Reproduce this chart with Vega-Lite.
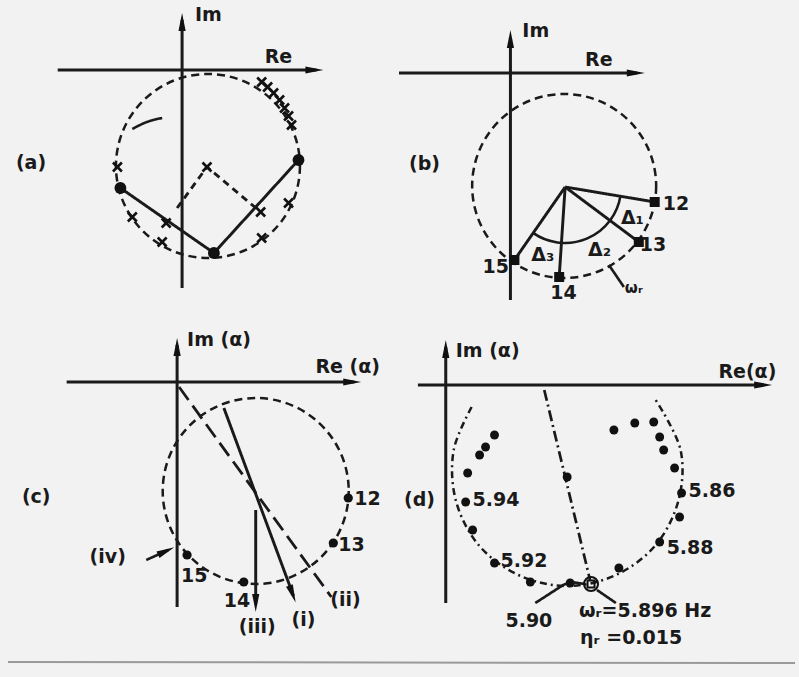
{
  "$schema": "https://vega.github.io/schema/vega-lite/v6.json",
  "width": 799,
  "height": 677,
  "autosize": {"type": "fit", "contains": "padding"},
  "padding": 0,
  "background": "#f2f2f2",
  "config": {"view": {"stroke": null}},
  "encoding": {
    "x": {"field": "x", "type": "quantitative", "scale": {"domain": [0, 799], "nice": false, "zero": false}, "axis": null},
    "y": {"field": "y", "type": "quantitative", "scale": {"domain": [0, 677], "reverse": true, "nice": false, "zero": false}, "axis": null}
  },
  "datasets": {
    "circles": [
      {"panel": "a", "x": 209, "y": 166, "r": 92},
      {"panel": "b", "x": 567, "y": 186, "r": 92},
      {"panel": "c", "x": 257, "y": 491, "r": 93}
    ],
    "arcs": [
      {"panel": "b", "x": 568, "y": 187, "r": 56, "t1": 99.5, "t2": 215}
    ],
    "lines": [
      {"g": "a_im", "k": "axis", "o": 0, "x": 183, "y": 288},
      {"g": "a_im", "k": "axis", "o": 1, "x": 183, "y": 20},
      {"g": "a_re", "k": "axis", "o": 0, "x": 58, "y": 70},
      {"g": "a_re", "k": "axis", "o": 1, "x": 318, "y": 70},
      {"g": "a_sol", "k": "solid", "o": 0, "x": 121, "y": 188},
      {"g": "a_sol", "k": "solid", "o": 1, "x": 215, "y": 253},
      {"g": "a_sol", "k": "solid", "o": 2, "x": 300, "y": 160},
      {"g": "a_das", "k": "dashed", "o": 0, "x": 178, "y": 208},
      {"g": "a_das", "k": "dashed", "o": 1, "x": 208, "y": 167},
      {"g": "a_das", "k": "dashed", "o": 2, "x": 262, "y": 212},
      {"g": "b_im", "k": "axis", "o": 0, "x": 513, "y": 300},
      {"g": "b_im", "k": "axis", "o": 1, "x": 513, "y": 38},
      {"g": "b_re", "k": "axis", "o": 0, "x": 401, "y": 73},
      {"g": "b_re", "k": "axis", "o": 1, "x": 640, "y": 73},
      {"g": "b_12", "k": "solid", "o": 0, "x": 568, "y": 187},
      {"g": "b_12", "k": "solid", "o": 1, "x": 658, "y": 202},
      {"g": "b_13", "k": "solid", "o": 0, "x": 568, "y": 187},
      {"g": "b_13", "k": "solid", "o": 1, "x": 642, "y": 242},
      {"g": "b_14", "k": "solid", "o": 0, "x": 568, "y": 187},
      {"g": "b_14", "k": "solid", "o": 1, "x": 562, "y": 277},
      {"g": "b_15", "k": "solid", "o": 0, "x": 568, "y": 187},
      {"g": "b_15", "k": "solid", "o": 1, "x": 517, "y": 260},
      {"g": "b_w", "k": "leader", "o": 0, "x": 612, "y": 265},
      {"g": "b_w", "k": "leader", "o": 1, "x": 627, "y": 287},
      {"g": "c_im", "k": "axis", "o": 0, "x": 178, "y": 607},
      {"g": "c_im", "k": "axis", "o": 1, "x": 178, "y": 345},
      {"g": "c_re", "k": "axis", "o": 0, "x": 67, "y": 382},
      {"g": "c_re", "k": "axis", "o": 1, "x": 356, "y": 382},
      {"g": "c_i", "k": "solid", "o": 0, "x": 225, "y": 408},
      {"g": "c_i", "k": "solid", "o": 1, "x": 295, "y": 596},
      {"g": "c_ii", "k": "longdash", "o": 0, "x": 180, "y": 387},
      {"g": "c_ii", "k": "longdash", "o": 1, "x": 333, "y": 597},
      {"g": "c_iii", "k": "solid", "o": 0, "x": 257, "y": 510},
      {"g": "c_iii", "k": "solid", "o": 1, "x": 257, "y": 604},
      {"g": "c_iv", "k": "leader", "o": 0, "x": 147, "y": 560},
      {"g": "c_iv", "k": "leader", "o": 1, "x": 169, "y": 550},
      {"g": "d_im", "k": "axis", "o": 0, "x": 448, "y": 603},
      {"g": "d_im", "k": "axis", "o": 1, "x": 448, "y": 347},
      {"g": "d_re", "k": "axis", "o": 0, "x": 420, "y": 385},
      {"g": "d_re", "k": "axis", "o": 1, "x": 768, "y": 385},
      {"g": "d_rad", "k": "dashdot", "o": 0, "x": 547, "y": 390},
      {"g": "d_rad", "k": "dashdot", "o": 1, "x": 593, "y": 580},
      {"g": "d_l1", "k": "leader", "o": 0, "x": 538, "y": 603},
      {"g": "d_l1", "k": "leader", "o": 1, "x": 566, "y": 585},
      {"g": "d_l1", "k": "leader", "o": 2, "x": 574, "y": 582},
      {"g": "d_l1", "k": "leader", "o": 3, "x": 588, "y": 584},
      {"g": "d_l2", "k": "leader", "o": 0, "x": 600, "y": 590},
      {"g": "d_l2", "k": "leader", "o": 1, "x": 619, "y": 603},
      {"g": "frame", "k": "frame", "o": 0, "x": 8, "y": 662},
      {"g": "frame", "k": "frame", "o": 1, "x": 799, "y": 663}
    ],
    "curves": [
      {"g": "a_thk", "k": "thick", "o": 0, "x": 133, "y": 129},
      {"g": "a_thk", "k": "thick", "o": 1, "x": 145, "y": 123},
      {"g": "a_thk", "k": "thick", "o": 2, "x": 154, "y": 120},
      {"g": "a_thk", "k": "thick", "o": 3, "x": 163, "y": 118},
      {"g": "d_arc", "k": "dotdash", "o": 0, "x": 474, "y": 407},
      {"g": "d_arc", "k": "dotdash", "o": 1, "x": 456, "y": 450},
      {"g": "d_arc", "k": "dotdash", "o": 2, "x": 458, "y": 500},
      {"g": "d_arc", "k": "dotdash", "o": 3, "x": 481, "y": 545},
      {"g": "d_arc", "k": "dotdash", "o": 4, "x": 521, "y": 575},
      {"g": "d_arc", "k": "dotdash", "o": 5, "x": 570, "y": 586},
      {"g": "d_arc", "k": "dotdash", "o": 6, "x": 619, "y": 575},
      {"g": "d_arc", "k": "dotdash", "o": 7, "x": 659, "y": 545},
      {"g": "d_arc", "k": "dotdash", "o": 8, "x": 682, "y": 500},
      {"g": "d_arc", "k": "dotdash", "o": 9, "x": 684, "y": 450},
      {"g": "d_arc", "k": "dotdash", "o": 10, "x": 659, "y": 400}
    ],
    "dots": [
      {"p": "a", "x": 300, "y": 160},
      {"p": "a", "x": 121, "y": 188},
      {"p": "a", "x": 215, "y": 253},
      {"p": "b", "x": 658, "y": 202},
      {"p": "b", "x": 642, "y": 242},
      {"p": "b", "x": 562, "y": 277},
      {"p": "b", "x": 517, "y": 260},
      {"p": "c", "x": 350, "y": 498},
      {"p": "c", "x": 335, "y": 543},
      {"p": "c", "x": 245, "y": 582},
      {"p": "c", "x": 188, "y": 555},
      {"p": "d", "x": 497, "y": 435},
      {"p": "d", "x": 488, "y": 447},
      {"p": "d", "x": 482, "y": 455},
      {"p": "d", "x": 470, "y": 473},
      {"p": "d", "x": 468, "y": 502},
      {"p": "d", "x": 475, "y": 530},
      {"p": "d", "x": 497, "y": 563},
      {"p": "d", "x": 533, "y": 582},
      {"p": "d", "x": 573, "y": 583},
      {"p": "d", "x": 622, "y": 568},
      {"p": "d", "x": 663, "y": 542},
      {"p": "d", "x": 683, "y": 517},
      {"p": "d", "x": 685, "y": 493},
      {"p": "d", "x": 678, "y": 468},
      {"p": "d", "x": 667, "y": 450},
      {"p": "d", "x": 663, "y": 437},
      {"p": "d", "x": 657, "y": 422},
      {"p": "d", "x": 638, "y": 423},
      {"p": "d", "x": 617, "y": 430},
      {"p": "d", "x": 570, "y": 477}
    ],
    "crosses": [
      {"x": 118, "y": 167},
      {"x": 133, "y": 217},
      {"x": 163, "y": 242},
      {"x": 263, "y": 238},
      {"x": 290, "y": 203},
      {"x": 167, "y": 223},
      {"x": 262, "y": 212},
      {"x": 208, "y": 167},
      {"x": 263, "y": 82},
      {"x": 269, "y": 87},
      {"x": 275, "y": 93},
      {"x": 281, "y": 100},
      {"x": 286, "y": 108},
      {"x": 290, "y": 116},
      {"x": 293, "y": 125}
    ],
    "arrows": [
      {"x": 183, "y": 22, "ang": 0},
      {"x": 316, "y": 70, "ang": 90},
      {"x": 513, "y": 39, "ang": 0},
      {"x": 639, "y": 73, "ang": 90},
      {"x": 178, "y": 347, "ang": 0},
      {"x": 354, "y": 382, "ang": 90},
      {"x": 448, "y": 349, "ang": 0},
      {"x": 767, "y": 385, "ang": 90},
      {"x": 294, "y": 594, "ang": 159.6},
      {"x": 257, "y": 603, "ang": 180},
      {"x": 167, "y": 551, "ang": 65}
    ],
    "box": [
      {"x": 594, "y": 584}
    ],
    "labels": [
      {"t": "Im", "x": 196, "y": 15},
      {"t": "Re", "x": 266, "y": 57},
      {"t": "(a)", "x": 16, "y": 163},
      {"t": "Im", "x": 525, "y": 31},
      {"t": "Re", "x": 588, "y": 60},
      {"t": "(b)", "x": 411, "y": 164},
      {"t": "12", "x": 666, "y": 204},
      {"t": "13", "x": 643, "y": 245},
      {"t": "14", "x": 553, "y": 293},
      {"t": "15", "x": 485, "y": 267},
      {"t": "Δ₁", "x": 624, "y": 218},
      {"t": "Δ₂", "x": 591, "y": 250},
      {"t": "Δ₃", "x": 534, "y": 255},
      {"t": "Im (α)", "x": 188, "y": 340},
      {"t": "Re (α)", "x": 317, "y": 367},
      {"t": "(c)", "x": 22, "y": 497},
      {"t": "12", "x": 356, "y": 499},
      {"t": "13", "x": 340, "y": 545},
      {"t": "15", "x": 182, "y": 576},
      {"t": "14", "x": 225, "y": 601},
      {"t": "(iv)", "x": 90, "y": 557},
      {"t": "(iii)", "x": 240, "y": 627},
      {"t": "(i)", "x": 293, "y": 620},
      {"t": "(ii)", "x": 332, "y": 600},
      {"t": "Im (α)", "x": 458, "y": 351},
      {"t": "Re(α)", "x": 722, "y": 372},
      {"t": "(d)", "x": 406, "y": 500},
      {"t": "5.94", "x": 475, "y": 500},
      {"t": "5.86", "x": 692, "y": 491},
      {"t": "5.88", "x": 670, "y": 548},
      {"t": "5.92", "x": 503, "y": 561},
      {"t": "5.90", "x": 508, "y": 621},
      {"t": "ωᵣ=5.896 Hz", "x": 582, "y": 611},
      {"t": "ηᵣ =0.015", "x": 583, "y": 638}
    ],
    "smalllabels": [
      {"t": "ωᵣ", "x": 628, "y": 288}
    ]
  },
  "layer": [
    {
      "data": {"name": "circles"},
      "mark": {"type": "point", "shape": "circle", "filled": false, "stroke": "#1a1a1a", "strokeWidth": 2.5, "strokeDash": [8, 5], "opacity": 1},
      "encoding": {
        "size": {"field": "r", "type": "quantitative", "scale": {"type": "pow", "exponent": 2, "domain": [0, 100], "range": [0, 40000]}, "legend": null}
      }
    },
    {
      "data": {"name": "lines"},
      "transform": [{"filter": "datum.k !== 'frame'"}],
      "mark": {"type": "line", "color": "#1a1a1a", "strokeCap": "butt"},
      "encoding": {
        "detail": {"field": "g", "type": "nominal"},
        "order": {"field": "o", "type": "quantitative"},
        "strokeDash": {"field": "k", "type": "nominal", "scale": {"domain": ["axis", "solid", "dashed", "longdash", "dashdot", "leader", "thick", "dotdash"], "range": [[1, 0], [1, 0], [7, 5], [16, 7], [11, 4, 2, 4], [1, 0], [1, 0], [7, 4, 2, 4]]}, "legend": null},
        "strokeWidth": {"field": "k", "type": "ordinal", "scale": {"domain": ["axis", "solid", "dashed", "longdash", "dashdot", "leader", "thick", "dotdash"], "range": [3, 2.5, 2.5, 2.5, 2.5, 3, 5, 2.5]}, "legend": null}
      }
    },
    {
      "data": {"name": "curves"},
      "mark": {"type": "line", "color": "#1a1a1a", "strokeCap": "butt", "interpolate": "catmull-rom"},
      "encoding": {
        "detail": {"field": "g", "type": "nominal"},
        "order": {"field": "o", "type": "quantitative"},
        "strokeDash": {"field": "k", "type": "nominal", "scale": {"domain": ["axis", "solid", "dashed", "longdash", "dashdot", "leader", "thick", "dotdash"], "range": [[1, 0], [1, 0], [7, 5], [16, 7], [11, 4, 2, 4], [1, 0], [1, 0], [7, 4, 2, 4]]}, "legend": null},
        "strokeWidth": {"field": "k", "type": "ordinal", "scale": {"domain": ["axis", "solid", "dashed", "longdash", "dashdot", "leader", "thick", "dotdash"], "range": [3, 2.5, 2.5, 2.5, 2.5, 3, 5, 2.5]}, "legend": null}
      }
    },
    {
      "data": {"name": "lines"},
      "transform": [{"filter": "datum.k === 'frame'"}],
      "mark": {"type": "line", "color": "#9a9a9a", "strokeWidth": 2},
      "encoding": {
        "detail": {"field": "g", "type": "nominal"},
        "order": {"field": "o", "type": "quantitative"}
      }
    },
    {
      "data": {"name": "arcs"},
      "mark": {"type": "arc", "filled": false, "color": "#1a1a1a", "strokeWidth": 2.5},
      "encoding": {
        "theta": {"field": "t1", "type": "quantitative", "stack": null, "scale": {"domain": [0, 360], "range": [0, 6.283185]}},
        "theta2": {"field": "t2"},
        "radius": {"field": "r", "type": "quantitative", "scale": {"type": "linear", "domain": [0, 100], "range": [0, 100]}},
        "radius2": {"field": "r"}
      }
    },
    {
      "data": {"name": "dots"},
      "transform": [{"filter": "datum.p === 'a'"}],
      "mark": {"type": "point", "shape": "circle", "filled": true, "size": 140, "color": "#111111", "opacity": 1}
    },
    {
      "data": {"name": "dots"},
      "transform": [{"filter": "datum.p === 'b'"}],
      "mark": {"type": "point", "shape": "square", "filled": true, "size": 100, "color": "#111111", "opacity": 1}
    },
    {
      "data": {"name": "dots"},
      "transform": [{"filter": "datum.p === 'c'"}],
      "mark": {"type": "point", "shape": "circle", "filled": true, "size": 85, "color": "#111111", "opacity": 1}
    },
    {
      "data": {"name": "dots"},
      "transform": [{"filter": "datum.p === 'd'"}],
      "mark": {"type": "point", "shape": "circle", "filled": true, "size": 80, "color": "#111111", "opacity": 1}
    },
    {
      "data": {"name": "crosses"},
      "mark": {"type": "point", "shape": "M-1,-1L1,1M-1,1L1,-1", "filled": false, "size": 80, "stroke": "#111111", "strokeWidth": 2.6, "opacity": 1}
    },
    {
      "data": {"name": "arrows"},
      "mark": {"type": "point", "shape": "M0,-1L0.4,1L-0.4,1Z", "filled": true, "size": 324, "color": "#111111", "opacity": 1},
      "encoding": {
        "angle": {"field": "ang", "type": "quantitative", "scale": {"domain": [0, 360], "range": [0, 360]}}
      }
    },
    {
      "data": {"name": "box"},
      "mark": {"type": "point", "shape": "circle", "filled": false, "size": 196, "stroke": "#111111", "strokeWidth": 2, "opacity": 1}
    },
    {
      "data": {"name": "box"},
      "mark": {"type": "point", "shape": "square", "filled": false, "size": 49, "stroke": "#111111", "strokeWidth": 2, "opacity": 1}
    },
    {
      "data": {"name": "labels"},
      "mark": {"type": "text", "align": "left", "baseline": "middle", "font": "DejaVu Sans", "fontSize": 19, "fontWeight": "bold", "color": "#1a1a1a"},
      "encoding": {"text": {"field": "t", "type": "nominal"}}
    },
    {
      "data": {"name": "smalllabels"},
      "mark": {"type": "text", "align": "left", "baseline": "middle", "font": "DejaVu Sans", "fontSize": 15, "fontWeight": "bold", "color": "#1a1a1a"},
      "encoding": {"text": {"field": "t", "type": "nominal"}}
    }
  ]
}
